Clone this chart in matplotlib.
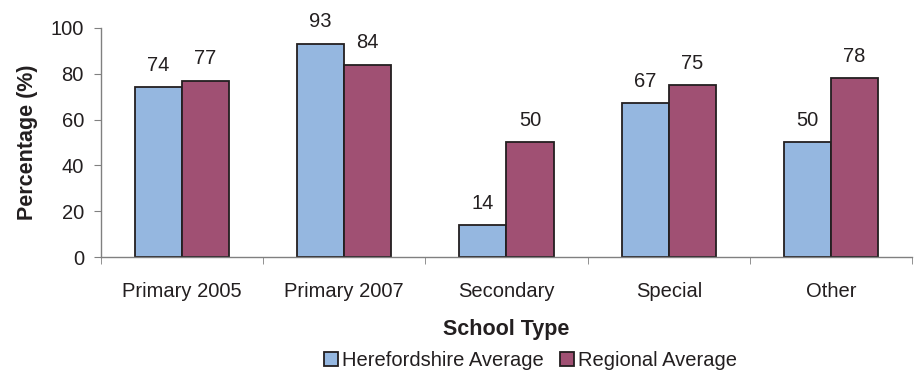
import numpy as np
import matplotlib
matplotlib.use("Agg")
import matplotlib.pyplot as plt

plt.rcParams['font.family'] = ['Liberation Sans', 'DejaVu Sans']

categories = ["Primary 2005", "Primary 2007", "Secondary", "Special", "Other"]
hereford = [74, 93, 14, 67, 50]
regional = [77, 84, 50, 75, 78]
series_names = ["Herefordshire Average", "Regional Average"]

blue = "#95B7E0"
maroon = "#A05073"
edge = "#231F20"
axis_grey = "#808080"
text_col = "#231F20"
fs = 14.5
fs_bold = 15.5

fig = plt.figure(figsize=(9.15, 3.71), dpi=100)
ax = fig.add_axes([0.110, 0.307, 0.887, 0.618])

x = np.arange(len(categories))
w = 0.29
b1 = ax.bar(x - w / 2, hereford, w, color=blue, edgecolor=edge, linewidth=1.3,
            label=series_names[0])
b2 = ax.bar(x + w / 2, regional, w, color=maroon, edgecolor=edge, linewidth=1.3,
            label=series_names[1])

for bars in (b1, b2):
    for rect in bars:
        h = rect.get_height()
        ax.annotate(f"{h:.0f}", (rect.get_x() + rect.get_width() / 2, h),
                    xytext=(0, 9), textcoords="offset points",
                    ha="center", va="bottom", fontsize=fs, color=text_col)

ax.set_xlim(-0.5, len(categories) - 0.5)
ax.set_ylim(0, 100)
ax.set_yticks([0, 20, 40, 60, 80, 100])

# category labels centred, tick marks between categories
ax.set_xticks(x)
ax.set_xticklabels(categories, fontsize=fs, color=text_col)
ax.tick_params(axis="x", length=0, pad=18)
ax.set_xticks(np.arange(-0.5, len(categories)), minor=True)
ax.tick_params(axis="x", which="minor", length=5, color=axis_grey, direction="out")
ax.tick_params(axis="y", length=5, color=axis_grey, labelsize=fs,
               labelcolor=text_col, pad=7)

for s in ("top", "right"):
    ax.spines[s].set_visible(False)
for s in ("left", "bottom"):
    ax.spines[s].set_color(axis_grey)
    ax.spines[s].set_linewidth(1.0)

ax.set_ylabel("Percentage (%)", fontsize=fs_bold, fontweight="bold", color=text_col,
              labelpad=9)
ax.set_xlabel("School Type", fontsize=fs_bold, fontweight="bold", color=text_col,
              labelpad=13)

fig.legend(handles=[b1, b2], loc="center", bbox_to_anchor=(0.580, 0.028),
           ncol=2, frameon=False, fontsize=fs, handlelength=0.7,
           handleheight=0.7, handletextpad=0.2, columnspacing=0.8,
           labelcolor=text_col, borderaxespad=0, borderpad=0)

fig.savefig("out.png", dpi=100)
